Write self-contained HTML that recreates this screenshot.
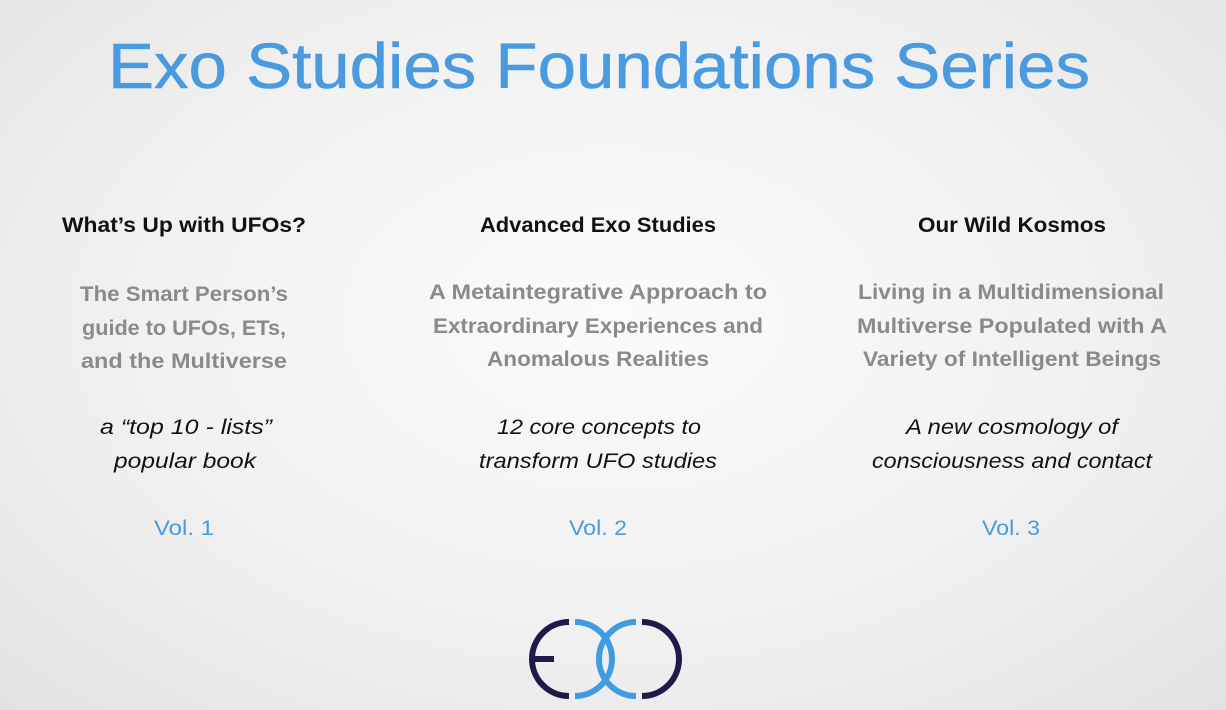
<!DOCTYPE html>
<html><head><meta charset="utf-8"><style>
html,body{margin:0;padding:0;}
body{width:1226px;height:710px;overflow:hidden;background:radial-gradient(ellipse at 50% 45%,#fbfbfb 0%,#f1f1f1 55%,#e2e2e2 100%);}
svg{display:block;font-family:"Liberation Sans",sans-serif;}
.h{font-weight:bold;font-size:21px;fill:#111;}
.g{font-weight:bold;font-size:21px;fill:#8a8a8a;}
.i{font-style:italic;font-size:21px;fill:#111;}
.v{font-size:21px;fill:#4a9ae0;}
</style></head><body>
<svg width="1226" height="710" viewBox="0 0 1226 710">
<text x="599" y="88" text-anchor="middle" font-size="64" fill="#4a9ae0" stroke="#4a9ae0" stroke-width="0.6" textLength="982" lengthAdjust="spacingAndGlyphs">Exo Studies Foundations Series</text>
<g text-anchor="middle">
<text class="h" x="184" y="232" textLength="244" lengthAdjust="spacingAndGlyphs">What’s Up with UFOs?</text>
<text class="g" x="184" y="301" textLength="208" lengthAdjust="spacingAndGlyphs">The Smart Person’s</text>
<text class="g" x="184" y="335" textLength="204" lengthAdjust="spacingAndGlyphs">guide to UFOs, ETs,</text>
<text class="g" x="184" y="368" textLength="206" lengthAdjust="spacingAndGlyphs">and the Multiverse</text>
<text class="i" x="186" y="434" textLength="172" lengthAdjust="spacingAndGlyphs">a “top 10 - lists”</text>
<text class="i" x="185" y="468" textLength="142" lengthAdjust="spacingAndGlyphs">popular book</text>
<text class="v" x="184" y="535" textLength="60" lengthAdjust="spacingAndGlyphs">Vol. 1</text>
</g>
<g text-anchor="middle">
<text class="h" x="598" y="232" textLength="236" lengthAdjust="spacingAndGlyphs">Advanced Exo Studies</text>
<text class="g" x="598" y="299" textLength="338" lengthAdjust="spacingAndGlyphs">A Metaintegrative Approach to</text>
<text class="g" x="598" y="333" textLength="330" lengthAdjust="spacingAndGlyphs">Extraordinary Experiences and</text>
<text class="g" x="598" y="366" textLength="222" lengthAdjust="spacingAndGlyphs">Anomalous Realities</text>
<text class="i" x="599" y="434" textLength="204" lengthAdjust="spacingAndGlyphs">12 core concepts to</text>
<text class="i" x="598" y="468" textLength="238" lengthAdjust="spacingAndGlyphs">transform UFO studies</text>
<text class="v" x="598" y="535" textLength="58" lengthAdjust="spacingAndGlyphs">Vol. 2</text>
</g>
<g text-anchor="middle">
<text class="h" x="1012" y="232" textLength="188" lengthAdjust="spacingAndGlyphs">Our Wild Kosmos</text>
<text class="g" x="1011" y="299" textLength="306" lengthAdjust="spacingAndGlyphs">Living in a Multidimensional</text>
<text class="g" x="1012" y="333" textLength="310" lengthAdjust="spacingAndGlyphs">Multiverse Populated with A</text>
<text class="g" x="1012" y="366" textLength="298" lengthAdjust="spacingAndGlyphs">Variety of Intelligent Beings</text>
<text class="i" x="1012" y="434" textLength="212" lengthAdjust="spacingAndGlyphs">A new cosmology of</text>
<text class="i" x="1012" y="468" textLength="280" lengthAdjust="spacingAndGlyphs">consciousness and contact</text>
<text class="v" x="1011" y="535" textLength="58" lengthAdjust="spacingAndGlyphs">Vol. 3</text>
</g>
<g fill="none" stroke-width="6">
<path d="M569 622 A37 37 0 0 0 569 696" stroke="#1c1b4a"/>
<line x1="535" y1="659" x2="554" y2="659" stroke="#1c1b4a"/>
<path d="M575 622 A37 37 0 0 1 575 696" stroke="#3e9de0"/>
<path d="M636 622 A37 37 0 0 0 636 696" stroke="#3e9de0"/>
<path d="M642 622 A37 37 0 0 1 642 696" stroke="#1c1b4a"/>
</g>
</svg>
</body></html>
